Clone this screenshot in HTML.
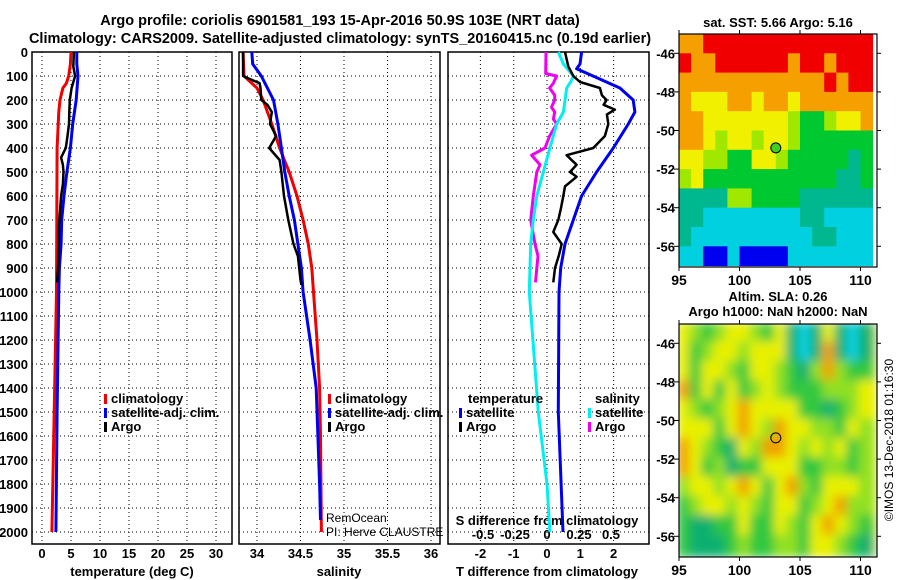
<!DOCTYPE html>
<html><head><meta charset="utf-8"><style>
html,body{margin:0;padding:0;background:#fff}
svg{display:block;font-family:"Liberation Sans",sans-serif}
.t{font-weight:bold;font-size:13px}
</style></head><body>
<svg id="c" width="900" height="580" viewBox="0 0 900 580" xmlns="http://www.w3.org/2000/svg">
<text x="340" y="25" text-anchor="middle" font-size="14.5" font-weight="bold">Argo profile: coriolis 6901581_193 15-Apr-2016 50.9S 103E (NRT data)</text>
<text x="340" y="43" text-anchor="middle" font-size="14.5" font-weight="bold">Climatology: CARS2009. Satellite-adjusted climatology: synTS_20160415.nc (0.19d earlier)</text>
<g id="g"></g>
</svg>
<script>
// ---- depth axis ----
const depthTicks=[0,100,200,300,400,500,600,700,800,900,1000,1100,1200,1300,1400,1500,1600,1700,1800,1900,2000];
// ---- temperature panel data ----
const tClimD=[0,50,100,130,150,200,250,400,1000,2000];
const tClimV=[5.0,4.9,4.6,4.2,3.6,3.1,2.9,2.6,2.5,1.7];
const tSatD=[0,50,100,200,300,400,500,600,700,800,900,1000,1500,2000];
const tSatV=[6.0,6.0,6.2,5.9,5.3,4.9,4.3,3.8,3.4,3.3,3.0,2.9,2.6,2.4];
const tArgoD=[0,60,100,150,200,250,300,350,400,440,470,500,550,600,700,740,800,900,960];
const tArgoV=[5.5,5.4,5.7,5.1,4.8,4.7,4.65,4.4,4.1,3.3,3.6,3.7,3.6,3.3,3.0,2.9,2.9,2.75,2.6];
// ---- salinity panel data ----
const sClimD=[0,100,150,200,300,400,500,600,700,800,900,1000,1200,1400,1600,2000];
const sClimV=[33.84,33.85,34.0,34.07,34.17,34.26,34.37,34.46,34.53,34.59,34.63,34.65,34.69,34.72,34.73,34.74];
const sSatD=[0,50,100,200,300,400,500,600,700,800,900,1000,1200,1400,1600,1800,1950];
const sSatV=[33.94,33.95,34.05,34.19,34.24,34.28,34.32,34.37,34.43,34.47,34.51,34.53,34.61,34.68,34.70,34.72,34.73];
const sArgoD=[0,100,110,130,150,200,220,250,300,350,400,450,500,600,700,800,850,950,970];
const sArgoV=[33.84,33.84,33.9,34.03,34.04,34.05,34.12,34.17,34.15,34.22,34.14,34.26,34.28,34.31,34.36,34.42,34.47,34.50,34.51];
// ---- difference panel data ----
const dTSatD=[0,50,70,100,150,200,250,300,400,500,600,700,800,900,1000,1500,2000];
const dTSatV=[1.04,0.99,0.89,1.38,2.19,2.59,2.64,2.44,1.99,1.49,1.04,0.79,0.54,0.41,0.36,0.34,0.48];
const dTArgoD=[0,60,100,125,150,180,200,220,240,260,300,350,400,430,470,500,520,560,600,650,700,750,800,850,900,960];
const dTArgoV=[0.54,0.64,0.79,0.99,1.59,1.65,1.79,1.7,2.04,1.8,1.84,1.74,1.39,0.59,0.89,0.69,0.89,0.54,0.49,0.42,0.34,0.19,0.44,0.35,0.24,0.19];
const dSSatD=[0,50,100,120,150,250,300,400,500,600,700,800,1000,1200,1500,1800,2000];
const dSSatV=[0.088,0.128,0.206,0.19,0.154,0.128,0.076,0.023,-0.029,-0.08,-0.107,-0.127,-0.138,-0.11,-0.068,0.0,0.023];
const dSArgoD=[0,90,100,130,150,180,200,230,250,280,300,350,400,430,470,500,600,700,800,850,900,960];
const dSArgoV=[-0.008,-0.01,0.075,0.05,0.02,0.06,0.06,0.035,0.06,0.05,0.076,0.02,-0.016,-0.12,-0.055,-0.08,-0.107,-0.127,-0.094,-0.07,-0.08,-0.09];
// ---- maps ----
const mapLonTicks=[95,100,105,110];
const mapLatTicks=[-46,-48,-50,-52,-54,-56];
const sstColors=["#0000f0","#00d0e0","#00b890","#00c830","#a0e800","#f0f000","#f5a000","#f00000"];
const sstGrid=[
[6,6,7,7,7,7,7,7,7,7,7,7,7,7,7,7],
[7,6,6,7,7,7,7,7,7,6,7,7,6,7,7,7],
[6,6,6,6,6,6,6,6,6,6,6,6,7,6,7,7],
[6,5,5,5,6,6,5,6,6,5,6,6,6,6,6,6],
[6,6,5,5,5,5,5,5,5,4,3,3,4,5,5,6],
[6,6,5,4,5,5,4,5,5,4,3,3,3,3,3,3],
[5,5,4,4,3,3,5,5,4,3,3,3,3,3,2,3],
[4,5,3,3,3,3,3,3,3,3,3,3,3,2,2,3],
[2,2,2,2,4,4,3,3,3,3,2,2,2,2,2,2],
[2,2,1,1,1,1,1,1,1,1,2,2,1,1,1,1],
[2,1,1,1,1,1,1,1,1,1,1,2,2,1,1,1],
[1,1,0,0,1,0,0,0,0,1,1,1,1,1,1,1]];
const slaColors=["#10d0e0","#10b070","#30c840","#90e020","#e8f000","#f0a000"];
const slaGrid=[
[4,3,2,3,4,4,3,2,4,1,0,1,4,1,0,1],
[4,2,3,4,4,3,4,4,4,1,0,1,5,1,0,1],
[4,2,4,4,3,2,4,4,3,2,1,3,5,3,2,2],
[5,2,4,2,4,2,3,4,3,2,2,2,3,3,3,4],
[4,3,2,3,4,5,4,4,4,4,2,2,1,2,3,4],
[4,4,4,2,4,5,4,3,5,4,4,3,3,2,4,3],
[5,4,3,2,1,4,3,5,5,4,3,4,3,4,2,3],
[5,4,2,3,1,2,2,4,4,4,2,2,3,3,2,3],
[3,4,4,3,4,5,4,2,4,5,3,2,4,4,4,3],
[2,3,4,4,3,4,3,2,4,4,2,3,4,5,3,3],
[2,1,1,2,2,4,2,2,4,3,2,4,5,4,3,2],
[2,1,1,1,2,3,2,2,3,3,2,4,4,3,2,1]];
const argoLon=103, argoLat=-50.9;

const NS="http://www.w3.org/2000/svg";
const G=document.getElementById('g');
function el(tag,attrs,parent){const e=document.createElementNS(NS,tag);for(const k in attrs)e.setAttribute(k,attrs[k]);(parent||G).appendChild(e);return e;}
const yD=d=>52+0.24*d;
const TOP=52, BOT=544;
function panel(x0,x1,name){
  const r=el('rect',{x:x0,y:TOP,width:x1-x0,height:BOT-TOP,fill:'none',stroke:'#000','stroke-width':1.5});
  
  
  depthTicks.forEach(d=>{
    const l=el('line',{x1:x0,x2:x1,y1:yD(d),y2:yD(d),stroke:'#000','stroke-width':1,'stroke-dasharray':'1,3'});
    
    
  });
}
function vgrid(xs,name){xs.forEach(x=>{
  const l=el('line',{x1:x,x2:x,y1:TOP,y2:BOT,stroke:'#000','stroke-width':1,'stroke-dasharray':'1,3'});
  
  
});}
function line(D,V,sx,color,name,w){
  const pts=D.map((d,i)=>sx(V[i]).toFixed(1)+','+yD(d).toFixed(1)).join(' ');
  const p=el('polyline',{points:pts,fill:'none',stroke:color,'stroke-width':w||3,'stroke-linejoin':'round'});
  
  
}
function txt(x,y,s,opts,name){
  const t=el('text',Object.assign({x:x,y:y,'font-size':13,'font-weight':'bold'},opts||{}));
  t.textContent=s;
  
  
  return t;
}
// depth labels
depthTicks.forEach(d=>{txt(28,yD(d)+5,String(d),{'text-anchor':'end'},'depth-tick-label');});

// panel 1
const sxT=v=>42+5.8*v;
panel(32,232,'temperature-panel');
const tTicks=[0,5,10,15,20,25,30];
vgrid(tTicks.map(sxT),'temperature-grid-line');
tTicks.forEach(v=>txt(sxT(v),558,String(v),{'text-anchor':'middle'},'temperature-tick-label'));
txt(132,576,'temperature (deg C)',{'text-anchor':'middle'},'temperature-axis-title');
line(tClimD,tClimV,sxT,'#f00000','temperature-climatology-line');
line(tSatD,tSatV,sxT,'#0000f0','temperature-satellite-line');
line(tArgoD,tArgoV,sxT,'#000','temperature-argo-line',2.5);

// panel 2
const sxS=v=>257+87*(v-34);
panel(239,440,'salinity-panel');
const sTicks=[34,34.5,35,35.5,36];
vgrid(sTicks.map(sxS),'salinity-grid-line');
sTicks.forEach(v=>txt(sxS(v),558,String(v),{'text-anchor':'middle'},'salinity-tick-label'));
txt(339,576,'salinity',{'text-anchor':'middle'},'salinity-axis-title');
line(sClimD,sClimV,sxS,'#f00000','salinity-climatology-line');
line(sSatD,sSatV,sxS,'#0000f0','salinity-satellite-line');
line(sArgoD,sArgoV,sxS,'#000','salinity-argo-line',2.5);

// panel 3
const sxDT=v=>547+33.3*v;
const sxDS=v=>547+128*v;
panel(448,649,'difference-panel');
const dtTicks=[-2,-1,0,1,2];
vgrid(dtTicks.map(sxDT),'difference-grid-line');
dtTicks.forEach(v=>txt(sxDT(v),558,String(v),{'text-anchor':'middle'},'t-difference-tick-label'));
const dsTicks=[-0.5,-0.25,0,0.25,0.5];
const dsLabels=['-0.5','-0.25','0','0.25','0.5'];
dsTicks.forEach((v,i)=>txt(sxDS(v),539,dsLabels[i],{'text-anchor':'middle'},'s-difference-tick-label'));
txt(547,525,'S difference from climatology',{'text-anchor':'middle'},'s-difference-axis-title');
txt(547,576,'T difference from climatology',{'text-anchor':'middle'},'t-difference-axis-title');
line(dSArgoD,dSArgoV,sxDS,'#f000f0','salinity-argo-difference-line');
line(dSSatD,dSSatV,sxDS,'#00f0f0','salinity-satellite-difference-line');
line(dTArgoD,dTArgoV,sxDT,'#000','temperature-argo-difference-line',2.5);
line(dTSatD,dTSatV,sxDT,'#0000f0','temperature-satellite-difference-line');

// legends
function leg(x,y,color,s,name){
  const r=el('rect',{x:x,y:y-9,width:3,height:10,fill:color});
  
  
  txt(x+7,y,s,{},name);
}
leg(104,403,'#f00000','climatology','legend-climatology');
leg(104,417,'#0000f0','satellite-adj. clim.','legend-satellite-adj');
leg(104,431,'#000','Argo','legend-argo');
leg(328,403,'#f00000','climatology','legend-climatology-s');
leg(328,417,'#0000f0','satellite-adj. clim.','legend-satellite-adj-s');
leg(328,431,'#000','Argo','legend-argo-s');
txt(468,403,'temperature',{},'legend-temperature-title');
leg(459,417,'#0000f0','satellite','legend-temperature-satellite');
leg(459,431,'#000','Argo','legend-temperature-argo');
txt(595,403,'salinity',{},'legend-salinity-title');
leg(588,417,'#00f0f0','satellite','legend-salinity-satellite');
leg(588,431,'#f000f0','Argo','legend-salinity-argo');
txt(326,522,'RemOcean',{'font-weight':'normal','font-size':12},'remocean-label');
txt(326,536,'PI: Herve CLAUSTRE',{'font-weight':'normal','font-size':12},'pi-label');

// maps
const MX0=679,MX1=877;
const mx=lon=>MX0+(lon-95)*12.1;
function map(top,grid,colors,name,blur){
  const bottom=top+233;
  const my=lat=>top+(-45-lat)*19.3;
  const g=el('g',{});
  
  
  const cp=el('clipPath',{id:name+'-clip'},g);
  el('rect',{x:MX0,y:top,width:MX1-MX0,height:bottom-top},cp);
  const inner=el('g',{'clip-path':'url(#'+name+'-clip)'},g);
  const cg=el('g',blur?{filter:'url(#'+name+'-blur)'}:{},inner);
  if(blur){const f=el('filter',{id:name+'-blur',x:'-10%',y:'-10%',width:'120%',height:'120%'},g);el('feGaussianBlur',{stdDeviation:5},f);
    const bg=el('rect',{x:MX0,y:top,width:MX1-MX0,height:bottom-top,fill:colors[4]},cg);}
  grid.forEach((row,r)=>row.forEach((v,c)=>{
    const lat=-45-r, lon=95+c;
    const x0=mx(lon), y0=my(lat);
    const cell=el('rect',{x:x0-(blur?2:0),y:y0-(blur?2:0),width:12.1+(blur?4:0.5),height:19.3+(blur?4:0.5),fill:colors[v]},cg);
    
    
  }));
  const fr=el('rect',{x:MX0,y:top,width:MX1-MX0,height:bottom-top,fill:'none',stroke:'#000','stroke-width':1.2},g);
  mapLatTicks.forEach(l=>{
    txt(675,my(l)+5,String(l),{'text-anchor':'end'},name+'-lat-label');
    el('line',{x1:MX0-5,x2:MX0,y1:my(l),y2:my(l),stroke:'#000'},g);
    el('line',{x1:MX1,x2:MX1+4,y1:my(l),y2:my(l),stroke:'#000'},g);
  });
  mapLonTicks.forEach(l=>{
    txt(mx(l),bottom+18,String(l),{'text-anchor':'middle','font-size':14},name+'-lon-label');
    el('line',{x1:mx(l),x2:mx(l),y1:bottom,y2:bottom+4,stroke:'#000'},g);
    el('line',{x1:mx(l),x2:mx(l),y1:top-4,y2:top,stroke:'#000'},g);
  });
  const c=el('circle',{cx:mx(argoLon),cy:my(argoLat),r:5,fill:blur?'none':'#40d020',stroke:'#000','stroke-width':1},g);
  
  
}
map(34,sstGrid,sstColors,'sst-map',false);
map(324,slaGrid,slaColors,'sla-map',true);
txt(778,27,'sat. SST: 5.66 Argo: 5.16',{'text-anchor':'middle'},'sst-map-title');
txt(778,301,'Altim. SLA: 0.26',{'text-anchor':'middle'},'sla-map-title');
txt(778,316,'Argo h1000: NaN h2000: NaN',{'text-anchor':'middle'},'sla-map-subtitle');
const cr=txt(0,0,'©IMOS 13-Dec-2018 01:16:30',{'font-weight':'normal','font-size':12,'text-anchor':'middle',transform:'translate(893,440) rotate(-90)'},'imos-credit');
</script>
</body></html>
